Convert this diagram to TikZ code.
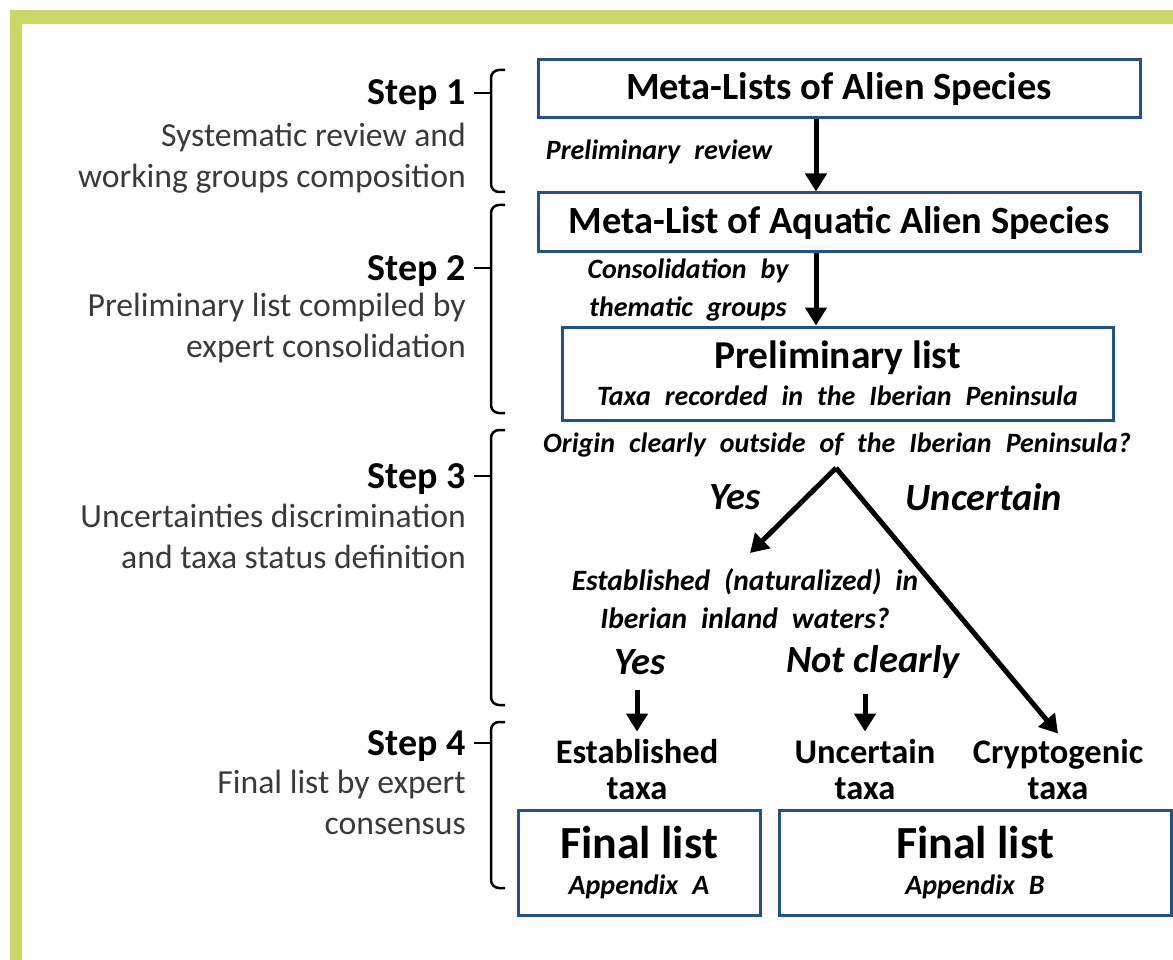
\documentclass[tikz,border=0pt]{standalone}
\usepackage{fontspec}
\setmainfont{Carlito}
\usetikzlibrary{arrows.meta, positioning, calc}
\definecolor{boxblue}{HTML}{23508F}
\definecolor{framegreen}{HTML}{C9D865}
\definecolor{steptext}{HTML}{3A3A3A}
\newcommand\subtext{\bfseries\itshape\fontsize{28}{30}\selectfont\spaceskip=.5em\relax}
\newcommand\notetext{\bfseries\itshape\fontsize{28}{38}\selectfont\spaceskip=.5em\relax}

\begin{document}
\begin{tikzpicture}[x=1pt, y=-1pt,
    box/.style={rectangle, draw=boxblue, line width=3pt, fill=white, inner sep=0pt, align=center, font=\bfseries\fontsize{38.5}{40}\selectfont},
    stepname/.style={anchor=base east, inner sep=0pt, font=\bfseries\fontsize{38}{40}\selectfont},
    stepdesc/.style={anchor=base east, inner sep=0pt, align=right, text=steptext, font=\fontsize{33.7}{41}\selectfont},
    note/.style={inner sep=0pt, align=center, font=\notetext},
    answer/.style={inner sep=0pt, font=\bfseries\itshape\fontsize{38.5}{40}\selectfont},
    taxa/.style={inner sep=0pt, align=center, font=\bfseries\fontsize{34.5}{36}\selectfont},
    flow/.style={-{Triangle[width=21pt,length=18pt]}, line width=5pt},
    brace/.style={line width=2.5pt, rounded corners=8pt}]
\useasboundingbox (0,0) rectangle (1173,960);
% green frame
\fill[framegreen] (10,10) rectangle (1173,24);
\fill[framegreen] (10,10) rectangle (22,960);

% steps on the left
\node[stepname] (s1) at (466,105) {Step 1};
\node[stepdesc] (d1) at (466,188) {Systematic review and\\working groups composition};
\node[stepname] (s2) at (466,280) {Step 2};
\node[stepdesc] (d2) at (466,357) {Preliminary list compiled by\\expert consolidation};
\node[stepname] (s3) at (466,488) {Step 3};
\node[stepdesc] (d3) at (466,568) {Uncertainties discrimination\\and taxa status definition};
\node[stepname] (s4) at (466,755) {Step 4};
\node[stepdesc] (d4) at (466,834) {Final list by expert\\consensus};
\foreach \top/\tip/\bot in {70/93/192, 205/268/413, 430/476/705, 722/743/888} {
    \draw[brace] (505,\top) -- (491,\top) -- (491,\bot) -- (505,\bot);
    \draw[line width=2.5pt] (474,\tip) -- (491,\tip);
}

% flow
\node[box, minimum width=602pt, minimum height=58pt] (mla) at (839,89) {Meta-Lists of Alien Species};
\node[box, minimum width=602pt, minimum height=59pt] (mlaq) at (839,222.5) {Meta-List of Aquatic Alien Species};
\node[box, minimum width=551pt, minimum height=93pt] (prel) at (837.5,373.5) {\fontsize{39.5}{40}\selectfont Preliminary list\\[-3pt]{\subtext Taxa recorded in the Iberian Peninsula}};
\coordinate (ax) at (816,0);
\draw[flow] (mla.south -| ax) -- (mlaq.north -| ax);
\draw[flow] (mlaq.south -| ax) -- (prel.north -| ax);
\node[note] (rev) at (659,152) {Preliminary review};
\node[note] (cons) at (688,290) {Consolidation by\\thematic groups};

\node[note] (orig) at (837,445) {Origin clearly outside of the Iberian Peninsula?};
\coordinate (apex) at (836,468);
\coordinate (yestip) at (750,553);
\node[answer] (yes1) at (735,497) {Yes};
\node[answer] (unc) at (984,497) {Uncertain};
\node[note, font=\notetext\fontsize{29.5}{38}\selectfont] (estq) at (745,599) {Established (naturalized) in\\Iberian inland waters?};
\node[answer] (yes2) at (640,662) {Yes};
\node[answer] (notc) at (873,662) {Not clearly};

\node[taxa] (estt) at (637,770) {Established\\taxa};
\node[taxa] (unct) at (865,770) {Uncertain\\taxa};
\node[taxa] (cryt) at (1058,770) {Cryptogenic\\taxa};
\draw[flow] (apex) -- (yestip);
\draw[flow] (apex) -- ([yshift=6pt]cryt.north);
\draw[flow] ([yshift=-15pt]yes2.south -| estt.north) -- ([yshift=8pt]estt.north);
\draw[flow] ([yshift=-15pt]notc.south -| unct.north) -- ([yshift=8pt]unct.north);

\node[box, minimum width=242pt, minimum height=105pt] (finA) at (639,862.5) {\fontsize{46}{46}\selectfont Final list\\[-4pt]{\subtext Appendix A}};
\node[box, minimum width=392pt, minimum height=105pt] (finB) at (975,862.5) {\fontsize{46}{46}\selectfont Final list\\[-4pt]{\subtext Appendix B}};
\end{tikzpicture}
\end{document}
